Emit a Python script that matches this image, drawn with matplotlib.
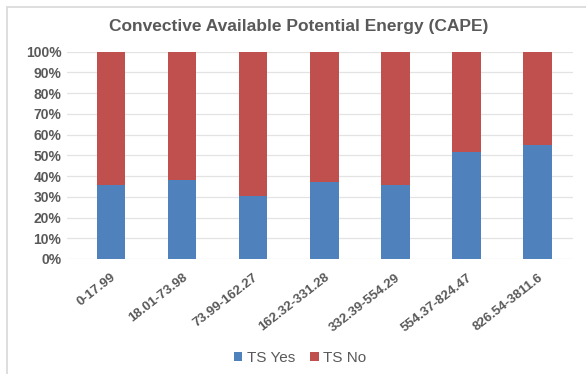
import matplotlib
matplotlib.use("Agg")
import matplotlib.pyplot as plt
from matplotlib.patches import Rectangle
from matplotlib.ticker import PercentFormatter, MultipleLocator

categories = ["0-17.99", "18.01-73.98", "73.99-162.27", "162.32-331.28",
              "332.39-554.29", "554.37-824.47", "826.54-3811.6"]
ts_yes = [35.5, 38, 30.5, 37, 35.5, 51.5, 55]
ts_no = [100 - v for v in ts_yes]

plt.rcParams['font.family'] = ['Liberation Sans', 'DejaVu Sans']
gray = "#595959"
blue = "#4F81BD"
red = "#C0504D"

W, H = 586, 374
fig = plt.figure(figsize=(W / 100, H / 100), dpi=100)
fig.patch.set_facecolor("white")

# faint chart-area border
fig.patches.append(Rectangle((7 / W, -0.05), 1.2, 1 - 7 / H + 0.05, transform=fig.transFigure,
                             fill=False, edgecolor="#D8D8D8", linewidth=1.2))

ax = fig.add_axes([67 / W, 1 - 259 / H, (573 - 67) / W, (259 - 51.7) / H])
x = range(len(categories))
ax.bar(x, ts_yes, width=0.40, color=blue, label="TS Yes", zorder=3)
ax.bar(x, ts_no, width=0.40, bottom=ts_yes, color=red, label="TS No", zorder=3)

ax.set_xlim(-0.619, 6.498)
ax.set_ylim(0, 100)
ax.yaxis.set_major_locator(MultipleLocator(10))
ax.yaxis.set_major_formatter(PercentFormatter(decimals=0))
ax.grid(axis="y", color="#E3E3E3", linewidth=0.9, zorder=0)
for s in ax.spines.values():
    s.set_visible(False)
ax.tick_params(axis="both", length=0, colors=gray)
ax.tick_params(axis="y", pad=4)
for lab in ax.get_yticklabels():
    lab.set_fontweight("bold")
    lab.set_fontsize(10)

ax.set_xticks(list(x))
ax.set_xticklabels(categories, rotation=38, ha="right", rotation_mode="anchor",
                   fontsize=9.5, fontweight="bold", color=gray)
ax.tick_params(axis="x", pad=9)

fig.text(298.5 / W, 1 - 27 / H, "Convective Available Potential Energy (CAPE)",
         ha="center", va="center", fontsize=12.5, fontweight="bold", color=gray)

leg = fig.legend(loc="center", bbox_to_anchor=(300 / W, 1 - 358 / H), ncol=2, frameon=False,
                 fontsize=11, handlelength=0.55, handleheight=0.55, handletextpad=0.3,
                 columnspacing=1.0, labelcolor=gray)

fig.savefig("out.png", dpi=100, facecolor="white")
